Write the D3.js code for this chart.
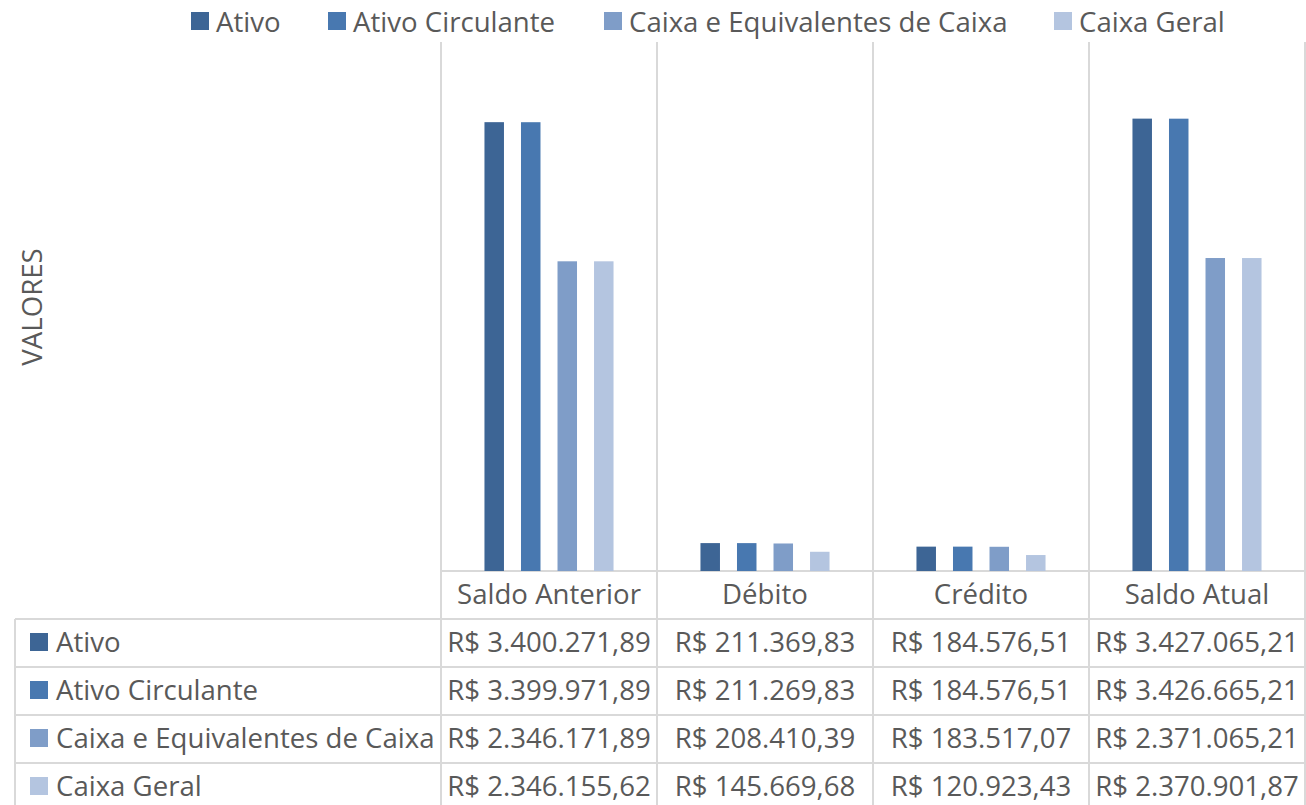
<!DOCTYPE html>
<html>
  <head>
    <meta charset="UTF-8">
    <title></title>
    <style>
    body {
      margin: 0;
      background: #fff;
    }
    svg text {
      font-family: "Open Sans", sans-serif;
      fill: #595959;
    }
    .grid {
      stroke: #d9d9d9;
      stroke-width: 2px;
      fill: none;
    }
    </style>
  </head>
  <body>
    <svg id="chart"></svg>
  </body>
  <script src="https://cdn.jsdelivr.net/npm/d3@7"></script>
  <script>
  // dados do grafico
  var categories = ["Saldo Anterior", "Débito", "Crédito", "Saldo Atual"];
  var seriesNames = ["Ativo", "Ativo Circulante", "Caixa e Equivalentes de Caixa", "Caixa Geral"];
  var ativo = [3400271.89, 211369.83, 184576.51, 3427065.21];
  var ativoCirculante = [3399971.89, 211269.83, 184576.51, 3426665.21];
  var caixaEquivalentes = [2346171.89, 208410.39, 183517.07, 2371065.21];
  var caixaGeral = [2346155.62, 145669.68, 120923.43, 2370901.87];
  var seriesValues = [ativo, ativoCirculante, caixaEquivalentes, caixaGeral];
  var colors = ["#3d6595", "#4878b0", "#7f9dc8", "#b4c5e0"];
  var yMax = 4000000;

  var width = 1306, height = 805;
  var fontSize = 27.6;

  var brl = d3.formatLocale({
    decimal: ",",
    thousands: ".",
    grouping: [3],
    currency: ["R$ ", ""]
  }).format("$,.2f");

  var svg = d3.select("svg#chart")
    .attr("width", width)
    .attr("height", height);

  var plotLeft = 441, plotRight = 1305, plotTop = 43, baseline = 571;
  var tableLeft = 15, rowH = 48;

  var x0 = d3.scaleBand().domain(categories).range([plotLeft, plotRight]).padding(0);
  var x1 = d3.scaleBand().domain(seriesNames).range([0, x0.bandwidth()])
    .paddingInner(0.466).paddingOuter(1.19);
  var y = d3.scaleLinear().domain([0, yMax]).range([baseline, plotTop]);

  // linhas verticais (separadores de categoria + tabela)
  var bounds = categories.map(function(c) { return x0(c); }).concat([plotRight]);
  svg.selectAll(".vline")
    .data(bounds)
    .enter()
    .append("line")
    .attr("class", "grid")
    .attr("x1", function(d) { return d; })
    .attr("x2", function(d) { return d; })
    .attr("y1", plotTop - 1)
    .attr("y2", height);

  // eixo / topo da tabela
  svg.append("line")
    .attr("class", "grid")
    .attr("x1", plotLeft).attr("x2", plotRight)
    .attr("y1", baseline).attr("y2", baseline);

  // linhas horizontais da tabela
  var rowTops = seriesNames.map(function(s, i) { return baseline + rowH * (i + 1); });
  svg.selectAll(".hline")
    .data(rowTops)
    .enter()
    .append("line")
    .attr("class", "grid")
    .attr("x1", tableLeft).attr("x2", plotRight)
    .attr("y1", function(d) { return d; })
    .attr("y2", function(d) { return d; });

  svg.append("line")
    .attr("class", "grid")
    .attr("x1", tableLeft).attr("x2", tableLeft)
    .attr("y1", rowTops[0]).attr("y2", height);

  // barras
  var groups = svg.selectAll(".cat")
    .data(categories)
    .enter()
    .append("g")
    .attr("transform", function(c) { return "translate(" + x0(c) + ",0)"; });

  groups.selectAll("rect")
    .data(function(c, ci) {
      return seriesNames.map(function(s, si) { return { s: s, v: seriesValues[si][ci], i: si }; });
    })
    .enter()
    .append("rect")
    .attr("x", function(d) { return x1(d.s); })
    .attr("width", x1.bandwidth())
    .attr("y", function(d) { return y(d.v); })
    .attr("height", function(d) { return baseline - y(d.v); })
    .style("fill", function(d) { return colors[d.i]; });

  // rotulos das categorias
  svg.selectAll(".catlabel")
    .data(categories)
    .enter()
    .append("text")
    .attr("x", function(c) { return x0(c) + x0.bandwidth() / 2; })
    .attr("y", baseline + rowH / 2 - 2)
    .attr("text-anchor", "middle")
    .attr("dominant-baseline", "central")
    .style("font-size", fontSize + "px")
    .text(function(c) { return c; });

  // tabela de dados
  var rows = svg.selectAll(".row")
    .data(seriesNames)
    .enter()
    .append("g")
    .attr("transform", function(s, i) { return "translate(0," + (rowTops[i] + rowH / 2) + ")"; });

  rows.append("rect")
    .attr("x", 30).attr("y", -10)
    .attr("width", 18).attr("height", 18)
    .style("fill", function(s, i) { return colors[i]; });

  rows.append("text")
    .attr("x", 56)
    .attr("y", -2)
    .attr("dominant-baseline", "central")
    .style("font-size", fontSize + "px")
    .text(function(s) { return s; });

  rows.selectAll(".val")
    .data(function(s, si) { return seriesValues[si].map(function(v, ci) { return { v: v, c: categories[ci] }; }); })
    .enter()
    .append("text")
    .attr("x", function(d) { return x0(d.c) + x0.bandwidth() / 2; })
    .attr("y", -2)
    .attr("text-anchor", "middle")
    .attr("dominant-baseline", "central")
    .style("font-size", fontSize + "px")
    .text(function(d) { return brl(d.v); });

  // titulo do eixo y
  svg.append("text")
    .attr("transform", "translate(31," + 307 + ")rotate(-90)")
    .attr("text-anchor", "middle")
    .attr("dominant-baseline", "central")
    .style("font-size", fontSize + "px")
    .text("VALORES");

  // legenda
  var legendX = [191, 328, 604, 1054];
  var legend = svg.selectAll(".legend")
    .data(seriesNames)
    .enter()
    .append("g")
    .attr("transform", function(s, i) { return "translate(" + legendX[i] + ",21)"; });

  legend.append("rect")
    .attr("x", 0).attr("y", -9)
    .attr("width", 18).attr("height", 18)
    .style("fill", function(s, i) { return colors[i]; });

  legend.append("text")
    .attr("x", 25)
    .attr("y", 0)
    .attr("dominant-baseline", "central")
    .style("font-size", fontSize + "px")
    .text(function(s) { return s; });
  </script>
</html>
